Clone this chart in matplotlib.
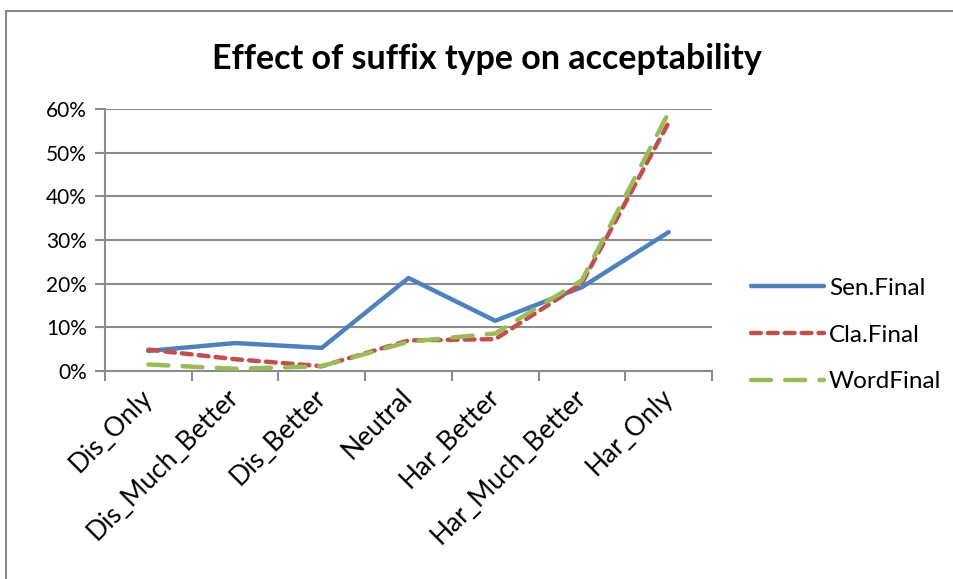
import matplotlib
matplotlib.use('Agg')
import matplotlib.pyplot as plt
from matplotlib.patches import Rectangle
import matplotlib.transforms as mtransforms

# datos
categorias = ['Dis_Only', 'Dis_Much_Better', 'Dis_Better', 'Neutral',
              'Har_Better', 'Har_Much_Better', 'Har_Only']
sen_final = [0.046, 0.064, 0.053, 0.213, 0.115, 0.192, 0.318]
cla_final = [0.049, 0.027, 0.011, 0.070, 0.073, 0.201, 0.569]
word_final = [0.015, 0.005, 0.011, 0.067, 0.086, 0.208, 0.592]
y_ticks = [0, 0.1, 0.2, 0.3, 0.4, 0.5, 0.6]

plt.rcParams['font.family'] = ['Lato', 'DejaVu Sans']

fig = plt.figure(figsize=(9.54, 5.79), dpi=100)

# marco del grafico (recortado a la derecha y abajo)
fig.patches.append(Rectangle((6 / 954, -0.05), 1.0, 1 - 11 / 579 + 0.05,
                             transform=fig.transFigure, fill=False,
                             edgecolor='#8a8a8a', linewidth=1.5))

ax = fig.add_axes([105 / 954, 1 - 371 / 579, (712 - 105) / 954, (371 - 109) / 579])
x = range(len(categorias))

gris = '#8c8c8c'
ax.plot(x, sen_final, color='#4f81bd', linewidth=3.2, solid_capstyle='round',
        solid_joinstyle='round', label='Sen.Final', zorder=3)
ax.plot(x, cla_final, color='#c0504d', linewidth=3.2, dash_capstyle='round',
        dashes=(2.2, 1.6), label='Cla.Final', zorder=4)
ax.plot(x, word_final, color='#9bbb59', linewidth=3.2, dash_capstyle='round',
        dashes=(4.5, 3.2), label='WordFinal', zorder=5)

ax.set_xlim(-0.5, len(categorias) - 0.5)
ax.set_ylim(0, 0.6)
ax.set_yticks(y_ticks)
ax.set_yticklabels([f'{int(round(v * 100))}%' for v in y_ticks], fontsize=15)
ax.yaxis.grid(True, color=gris, linewidth=1.5)
ax.set_axisbelow(True)

ax.set_xticks(list(x))
ax.set_xticklabels(categorias, rotation=45, ha='right', va='center',
                   rotation_mode='anchor', fontsize=19)
# desplazar un poco las etiquetas a la derecha, como en Excel
desplaza = mtransforms.ScaledTranslation(32 / 100, 0, fig.dpi_scale_trans)
for etiqueta in ax.get_xticklabels():
    etiqueta.set_transform(etiqueta.get_transform() + desplaza)
ax.set_xticks([i - 0.5 for i in range(len(categorias) + 1)], minor=True)
ax.tick_params(axis='x', which='major', length=0, pad=16)
ax.tick_params(axis='x', which='minor', length=7, width=1.5, color=gris)
ax.tick_params(axis='y', length=7, width=1.5, color=gris, pad=6)

for lado in ['top', 'right']:
    ax.spines[lado].set_visible(False)
for lado in ['left', 'bottom']:
    ax.spines[lado].set_color(gris)
    ax.spines[lado].set_linewidth(1.5)

fig.text(487 / 954, 1 - 59 / 579, 'Effect of suffix type on acceptability',
         ha='center', va='center', fontsize=24.5, fontweight='bold')

handles, labels = ax.get_legend_handles_labels()
fig.legend(handles, labels, loc='center left', bbox_to_anchor=(751 / 954, 1 - 335 / 579),
           frameon=False, fontsize=17.5, handlelength=3.0, handletextpad=0.2,
           labelspacing=1.05, borderaxespad=0, borderpad=0)

fig.savefig('out.png', dpi=100)
